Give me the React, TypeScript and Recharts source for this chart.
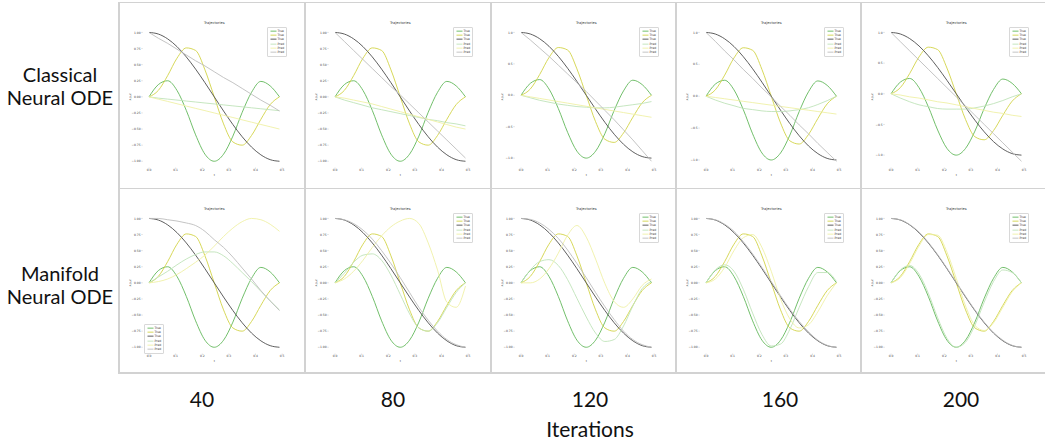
import React from 'react';
import { LineChart, Line, XAxis, YAxis, Legend } from 'recharts';

// ---------- data ----------
const T = [0, 0.035, 0.07, 0.105, 0.14, 0.175, 0.21, 0.245, 0.28, 0.315, 0.35, 0.385, 0.42, 0.455, 0.49];

const TRUE_GREEN = [0, 0.19, 0.25, 0.1, -0.21, -0.59, -0.89, -1.0, -0.89, -0.61, -0.24, 0.07, 0.24, 0.17, 0];
const TRUE_YELLOW = [0, 0.1, 0.33, 0.6, 0.76, 0.72, 0.42, 0.0, -0.42, -0.7, -0.75, -0.6, -0.35, -0.12, 0];
const TRUE_GRAY = [1.0, 0.975, 0.9, 0.78, 0.62, 0.43, 0.22, 0.0, -0.22, -0.43, -0.62, -0.78, -0.9, -0.975, -1.0];

// Classical Neural ODE predictions
const C40_GREEN = [0, -0.02, -0.035, -0.05, -0.065, -0.08, -0.095, -0.11, -0.125, -0.14, -0.155, -0.17, -0.185, -0.2, -0.215];
const C40_YELLOW = [0, -0.036, -0.071, -0.107, -0.143, -0.179, -0.214, -0.25, -0.286, -0.321, -0.357, -0.393, -0.429, -0.464, -0.5];
const C40_GRAY = [1.0, 0.91, 0.83, 0.74, 0.65, 0.56, 0.48, 0.39, 0.3, 0.22, 0.13, 0.04, -0.05, -0.13, -0.22];

const C80_GREEN = [0, -0.05, -0.09, -0.13, -0.17, -0.2, -0.23, -0.26, -0.29, -0.32, -0.35, -0.37, -0.4, -0.42, -0.45];
const C80_YELLOW = [0, -0.02, -0.05, -0.08, -0.11, -0.15, -0.19, -0.23, -0.27, -0.31, -0.35, -0.39, -0.43, -0.47, -0.5];
const C80_GRAY = [1.0, 0.86, 0.72, 0.58, 0.44, 0.3, 0.16, 0.03, -0.11, -0.25, -0.39, -0.53, -0.67, -0.81, -0.95];

const C120_GREEN = [0, -0.04, -0.08, -0.11, -0.14, -0.16, -0.18, -0.19, -0.2, -0.2, -0.19, -0.17, -0.15, -0.13, -0.1];
const C120_YELLOW = [0, -0.025, -0.05, -0.075, -0.1, -0.125, -0.15, -0.175, -0.2, -0.225, -0.25, -0.275, -0.3, -0.325, -0.35];
const C120_GRAY = [1.0, 0.88, 0.75, 0.62, 0.48, 0.34, 0.2, 0.06, -0.09, -0.24, -0.39, -0.55, -0.71, -0.88, -1.05];

const C160_GREEN = [0, -0.06, -0.11, -0.15, -0.19, -0.21, -0.23, -0.24, -0.24, -0.23, -0.21, -0.18, -0.13, -0.07, 0];
const C160_YELLOW = [0, -0.02, -0.04, -0.06, -0.08, -0.1, -0.12, -0.14, -0.16, -0.18, -0.2, -0.22, -0.24, -0.26, -0.28];
const C160_GRAY = [1.0, 0.86, 0.71, 0.57, 0.42, 0.28, 0.13, -0.01, -0.16, -0.3, -0.45, -0.59, -0.74, -0.88, -1.02];

const C200_GREEN = [0, -0.07, -0.13, -0.18, -0.21, -0.24, -0.25, -0.25, -0.25, -0.23, -0.2, -0.16, -0.11, -0.05, 0];
const C200_YELLOW = [0, -0.02, -0.05, -0.07, -0.1, -0.13, -0.15, -0.18, -0.21, -0.24, -0.27, -0.3, -0.32, -0.35, -0.37];
const C200_GRAY = [1.0, 0.85, 0.7, 0.55, 0.4, 0.25, 0.1, -0.05, -0.2, -0.35, -0.5, -0.65, -0.8, -0.95, -1.1];

// Manifold Neural ODE predictions
const M40_GREEN = [0, 0.09, 0.18, 0.28, 0.37, 0.44, 0.48, 0.48, 0.42, 0.3, 0.16, 0.02, -0.13, -0.28, -0.42];
const M40_YELLOW = [0, 0.02, 0.06, 0.13, 0.22, 0.32, 0.43, 0.57, 0.72, 0.85, 0.95, 1.0, 0.98, 0.91, 0.8];
const M40_GRAY = [1.0, 1.0, 0.98, 0.96, 0.93, 0.89, 0.8, 0.67, 0.55, 0.4, 0.23, 0.06, -0.12, -0.28, -0.43];

const M80_GREEN = [0, 0.15, 0.32, 0.43, 0.45, 0.35, 0.12, -0.18, -0.48, -0.7, -0.75, -0.62, -0.38, -0.15, 0];
const M80_YELLOW = [0, 0.06, 0.18, 0.35, 0.55, 0.73, 0.87, 0.96, 1.0, 0.92, 0.62, 0.2, -0.3, -0.38, -0.05];
const M80_GRAY = [1.0, 0.98, 0.92, 0.82, 0.68, 0.5, 0.3, 0.08, -0.15, -0.38, -0.58, -0.75, -0.88, -0.96, -1.0];

const M120_GREEN = [0, 0.2, 0.33, 0.36, 0.27, 0.05, -0.24, -0.53, -0.78, -0.91, -0.88, -0.67, -0.36, -0.09, 0.02];
const M120_YELLOW = [0, 0.0, 0.06, 0.22, 0.46, 0.74, 0.89, 0.71, 0.37, -0.01, -0.29, -0.38, -0.25, -0.04, 0.06];
const M120_GRAY = [1.0, 0.985, 0.93, 0.83, 0.69, 0.51, 0.3, 0.08, -0.15, -0.37, -0.57, -0.75, -0.88, -0.96, -1.0];

const M160_GREEN = [0, 0.2, 0.28, 0.18, -0.1, -0.47, -0.8, -0.98, -0.95, -0.72, -0.38, -0.06, 0.16, 0.16, 0.02];
const M160_YELLOW = [0, 0.06, 0.24, 0.5, 0.7, 0.75, 0.55, 0.18, -0.25, -0.56, -0.7, -0.65, -0.45, -0.2, 0.0];
const M160_GRAY = [1.0, 0.98, 0.91, 0.8, 0.64, 0.45, 0.24, 0.02, -0.2, -0.41, -0.6, -0.76, -0.89, -0.97, -1.0];

const M200_GREEN = [0, 0.2, 0.27, 0.14, -0.16, -0.54, -0.86, -1.0, -0.92, -0.66, -0.3, 0.02, 0.2, 0.16, 0.0];
const M200_YELLOW = [0, 0.08, 0.3, 0.57, 0.75, 0.74, 0.48, 0.07, -0.36, -0.66, -0.74, -0.62, -0.38, -0.14, 0];
const M200_GRAY = [1.0, 0.98, 0.905, 0.79, 0.63, 0.44, 0.23, 0.01, -0.21, -0.42, -0.61, -0.77, -0.89, -0.97, -1.0];

const ITERATIONS = ['40', '80', '120', '160', '200'];
const ROW_TITLES = [['Classical', 'Neural ODE'], ['Manifold', 'Neural ODE']];
const SERIES_NAMES = ['True', 'True', 'True', 'Pred', 'Pred', 'Pred'];
const X_TICKS = [0, 0.1, 0.2, 0.3, 0.4, 0.5];
const Y_TICKS_QUARTER = [-1, -0.75, -0.5, -0.25, 0, 0.25, 0.5, 0.75, 1];
const Y_TICKS_HALF = [-1, -0.5, 0, 0.5, 1];

// ---------- styling ----------
const COLORS = ['#62b85a', '#d3d447', '#4d4d4d', '#bfe3b9', '#eff0a6', '#bdbdbd'];
const COL_X = [119, 305, 491, 676, 861];
const ROW_Y = [3, 189];
const LABEL_X = [202, 393, 590, 780, 961];
const PANEL_W = 186;
const PANEL_H = 186;
const MARGIN = { top: 23, right: 19, left: 0, bottom: 0 };
const YAXIS_W = 23.5;
const XAXIS_H = 21.3;
const FONT = '"DejaVu Sans", sans-serif';

type Panel = { pred: number[][]; yTicks: number[]; dec: number; legend: 'tr' | 'bl' };

const PANELS: Panel[][] = [
  [
    { pred: [C40_GREEN, C40_YELLOW, C40_GRAY], yTicks: Y_TICKS_QUARTER, dec: 2, legend: 'tr' },
    { pred: [C80_GREEN, C80_YELLOW, C80_GRAY], yTicks: Y_TICKS_QUARTER, dec: 2, legend: 'tr' },
    { pred: [C120_GREEN, C120_YELLOW, C120_GRAY], yTicks: Y_TICKS_HALF, dec: 1, legend: 'tr' },
    { pred: [C160_GREEN, C160_YELLOW, C160_GRAY], yTicks: Y_TICKS_HALF, dec: 1, legend: 'tr' },
    { pred: [C200_GREEN, C200_YELLOW, C200_GRAY], yTicks: Y_TICKS_HALF, dec: 1, legend: 'tr' },
  ],
  [
    { pred: [M40_GREEN, M40_YELLOW, M40_GRAY], yTicks: Y_TICKS_QUARTER, dec: 2, legend: 'bl' },
    { pred: [M80_GREEN, M80_YELLOW, M80_GRAY], yTicks: Y_TICKS_QUARTER, dec: 2, legend: 'tr' },
    { pred: [M120_GREEN, M120_YELLOW, M120_GRAY], yTicks: Y_TICKS_QUARTER, dec: 2, legend: 'tr' },
    { pred: [M160_GREEN, M160_YELLOW, M160_GRAY], yTicks: Y_TICKS_QUARTER, dec: 2, legend: 'tr' },
    { pred: [M200_GREEN, M200_YELLOW, M200_GRAY], yTicks: Y_TICKS_QUARTER, dec: 2, legend: 'tr' },
  ],
];

const fmt = (dec: number) => (v: number) => {
  const s = Math.abs(v).toFixed(dec);
  return v < -1e-9 ? '\u2212' + s : s;
};

const LegendBox = () => (
  <div
    style={{
      border: '0.5px solid #d8d8d8',
      borderRadius: 1,
      background: '#fff',
      padding: '1.2px 1.5px',
      fontFamily: FONT,
      fontSize: 3,
      lineHeight: '4.3px',
      color: '#333',
    }}
  >
    {SERIES_NAMES.map((n, i) => (
      <div key={i} style={{ display: 'flex', alignItems: 'center', height: 4.3 }}>
        <svg width={7} height={4.3} style={{ display: 'block' }}>
          <line x1={0.5} x2={6.5} y1={2.15} y2={2.15} stroke={COLORS[i]} strokeWidth={0.9} />
        </svg>
        <span style={{ marginLeft: 1 }}>{n}</span>
      </div>
    ))}
  </div>
);

const PanelChart = ({ panel }: { panel: Panel }) => {
  const series = [TRUE_GREEN, TRUE_YELLOW, TRUE_GRAY, ...panel.pred];
  const data = T.map((t, i) => {
    const row: Record<string, number> = { t };
    series.forEach((s, k) => (row['s' + k] = s[i]));
    return row;
  });
  const all = series.flat();
  const yMin = Math.min(...all);
  const yMax = Math.max(...all);
  const yPad = 0.05 * (yMax - yMin);
  const xPad = 0.05 * (T[T.length - 1] - T[0]);
  const plotW = PANEL_W - YAXIS_W - MARGIN.right;
  const plotH = PANEL_H - MARGIN.top - XAXIS_H;
  const cx = YAXIS_W + plotW / 2;
  const cy = MARGIN.top + plotH / 2;
  const legendPos = panel.legend === 'tr' ? { left: 148, top: 23.5 } : { left: 25, top: 134.5 };
  return (
    <div style={{ position: 'relative', width: PANEL_W, height: PANEL_H }}>
      <LineChart width={PANEL_W} height={PANEL_H} data={data} margin={MARGIN}>
        <XAxis
          dataKey="t"
          type="number"
          domain={[T[0] - xPad, T[T.length - 1] + xPad]}
          allowDataOverflow
          ticks={X_TICKS}
          tickFormatter={fmt(1)}
          height={XAXIS_H}
          axisLine={false}
          tickLine={{ stroke: '#888', strokeWidth: 0.4 }}
          tickSize={1}
          tickMargin={0.6}
          tick={{ fontSize: 3, fill: '#444', fontFamily: FONT }}
          interval={0}
        />
        <YAxis
          type="number"
          domain={[yMin - yPad, yMax + yPad]}
          allowDataOverflow
          ticks={panel.yTicks}
          tickFormatter={fmt(panel.dec)}
          width={YAXIS_W}
          axisLine={false}
          tickLine={{ stroke: '#888', strokeWidth: 0.4 }}
          tickSize={1}
          tickMargin={0.8}
          tick={{ fontSize: 3, fill: '#444', fontFamily: FONT }}
          interval={0}
        />
        {series.map((_, k) => (
          <Line
            key={k}
            dataKey={'s' + k}
            name={SERIES_NAMES[k]}
            type="monotone"
            stroke={COLORS[k]}
            strokeWidth={0.9}
            dot={false}
            activeDot={false}
            isAnimationActive={false}
          />
        ))}
        <Legend
          layout="vertical"
          align="center"
          verticalAlign="middle"
          wrapperStyle={{ ...legendPos, width: 'auto', height: 'auto' }}
          content={() => <LegendBox />}
        />
      </LineChart>
      <svg
        width={PANEL_W}
        height={PANEL_H}
        style={{ position: 'absolute', left: 0, top: 0, pointerEvents: 'none' }}
      >
        <text x={cx} y={19.7} textAnchor="middle" dominantBaseline="central" fontSize={3.6} fontFamily={FONT} fill="#333">
          Trajectories
        </text>
        <text
          x={10.7}
          y={cy}
          textAnchor="middle"
          dominantBaseline="central"
          fontSize={3}
          fontFamily={FONT}
          fill="#444"
          transform={`rotate(-90 10.7 ${cy})`}
        >
          x,y,z
        </text>
        <text x={cx} y={172} textAnchor="middle" dominantBaseline="central" fontSize={3} fontFamily={FONT} fill="#444">
          t
        </text>
      </svg>
    </div>
  );
};

const GRID = '#d2d2d2';

export default function App() {
  return (
    <div
      style={{
        position: 'absolute',
        left: 0,
        top: 0,
        width: 1045,
        height: 440,
        background: '#fff',
        overflow: 'hidden',
        fontFamily: 'Lato, "Open Sans", sans-serif',
      }}
    >
      {PANELS.map((row, r) =>
        row.map((p, c) => (
          <div key={r + '-' + c} style={{ position: 'absolute', left: COL_X[c], top: ROW_Y[r] }}>
            <PanelChart panel={p} />
          </div>
        ))
      )}
      {/* table grid */}
      {COL_X.map((x) => (
        <div key={'v' + x} style={{ position: 'absolute', left: x - 0.75, top: 2, width: 1.5, height: 372, background: GRID }} />
      ))}
      {[2.5, 188.5, 373].map((y) => (
        <div key={'h' + y} style={{ position: 'absolute', left: 118.5, top: y - 0.75, width: 927, height: 1.5, background: GRID }} />
      ))}
      {/* row titles */}
      {ROW_TITLES.map((lines, r) => (
        <div
          key={'rt' + r}
          style={{
            position: 'absolute',
            left: 60,
            top: r === 0 ? 86 : 285,
            transform: 'translate(-50%, -50%)',
            textAlign: 'center',
            fontSize: 20,
            lineHeight: '23px',
            color: '#111',
            whiteSpace: 'nowrap',
          }}
        >
          {lines.map((l, i) => (
            <div key={i}>{l}</div>
          ))}
        </div>
      ))}
      {/* column labels */}
      {ITERATIONS.map((it, c) => (
        <div
          key={'it' + c}
          style={{
            position: 'absolute',
            left: LABEL_X[c],
            top: 398,
            transform: 'translate(-50%, -50%)',
            fontSize: 21,
            color: '#111',
          }}
        >
          {it}
        </div>
      ))}
      <div
        style={{
          position: 'absolute',
          left: 590,
          top: 428,
          transform: 'translate(-50%, -50%)',
          fontSize: 21,
          color: '#111',
          whiteSpace: 'nowrap',
        }}
      >
        Iterations
      </div>
    </div>
  );
}
